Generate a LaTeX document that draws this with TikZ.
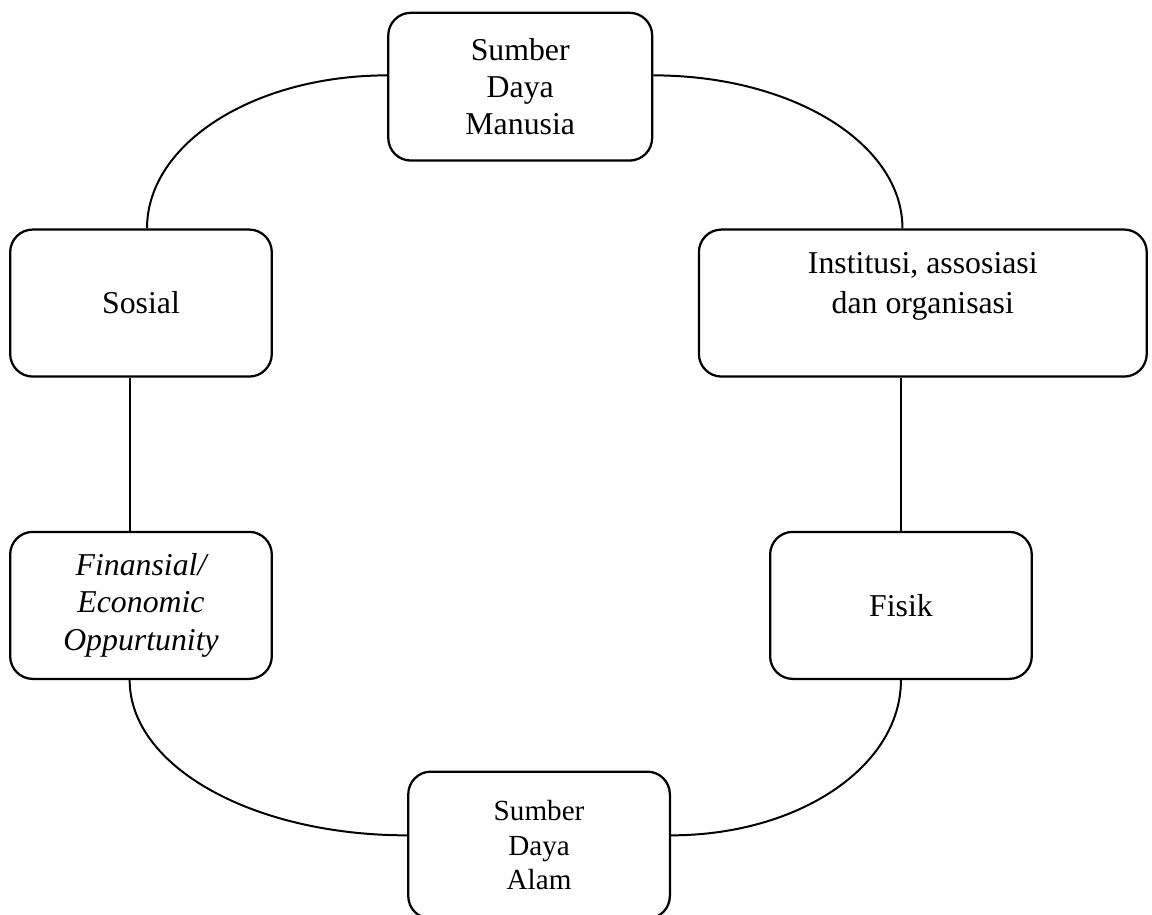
\documentclass[tikz,border=0pt]{standalone}
\usepackage{fontspec}
\setmainfont{Liberation Serif}
\usepackage{tikz}
\usetikzlibrary{calc}

\begin{document}
\begin{tikzpicture}[
  capital/.style={draw, line width=0.85pt, rounded corners=0.3cm, align=center,
    minimum width=3.47cm, minimum height=1.95cm, inner sep=2pt,
    font=\fontsize{12}{14}\selectfont},
  link/.style={line width=0.75pt},
]
\useasboundingbox (0,0) rectangle (15.28,12.13);

% --- the six capitals ---
\node[capital, minimum width=3.5cm, minimum height=1.96cm] (sdm) at (6.90,10.98) {Sumber\\Daya\\Manusia};
\node[capital] (sosial) at (1.87,8.11) {Sosial};
\node[capital, minimum width=5.94cm, font=\fontsize{12}{15}\selectfont] (inst) at (12.24,8.11)
  {Institusi, assosiasi\\dan organisasi\\~};
\node[capital, font=\fontsize{12}{14}\selectfont\itshape] (finan) at (1.87,4.10)
  {Finansial/\\Economic\\Oppurtunity};
\node[capital] (fisik) at (11.95,4.10) {Fisik};
\node[capital, font=\fontsize{11}{13}\selectfont] (sda) at (7.15,0.92) {Sumber\\Daya\\Alam};

% --- ring of links ---
\draw[link] ([yshift=0.15cm]sdm.west) .. controls +(-1.76,0) and +(0,1.13) .. ([xshift=0.08cm]sosial.north);
\draw[link] ([yshift=0.15cm]sdm.east) .. controls +(1.84,0) and +(0,1.13) .. ([xshift=-0.27cm]inst.north);
\draw[link] (fisik.north |- inst.south) -- (fisik.north);
\draw[link] (fisik.south) .. controls +(0,-1.15) and +(1.69,0) .. ([yshift=0.13cm]sda.east);
\draw[link] ([xshift=-0.15cm]finan.south) .. controls +(0,-1.15) and +(-2.04,0) .. ([yshift=0.13cm]sda.west);
\draw[link] ([xshift=-0.15cm]sosial.south) -- ([xshift=-0.15cm]finan.north);

\end{tikzpicture}
\end{document}
